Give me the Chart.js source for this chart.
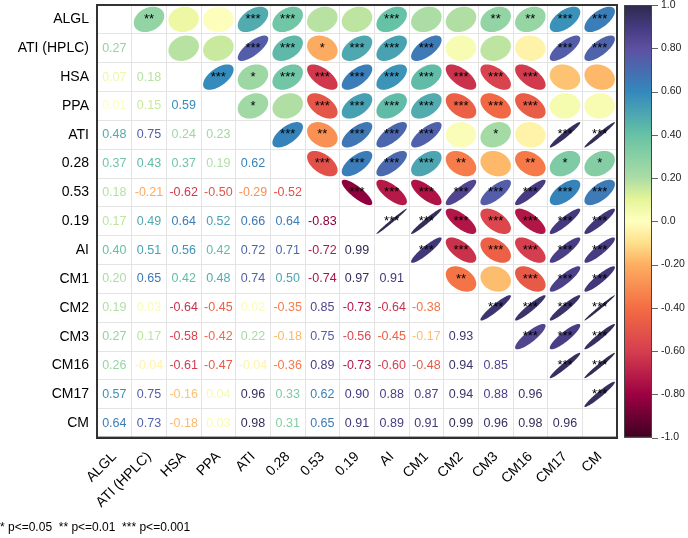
<!DOCTYPE html>
<html>
<head>
<meta charset="utf-8">
<script src="https://cdn.jsdelivr.net/npm/chart.js@4.4.1/dist/chart.umd.min.js"></script>
<style>
  html, body { margin: 0; padding: 0; background: #fff; }
  #wrap { width: 688px; height: 538px; }
</style>
</head>
<body>
<div id="wrap"><canvas id="corrChart"></canvas></div>
<script>
// variables, top to bottom / left to right
const labels = ['ALGL', 'ATI (HPLC)', 'HSA', 'PPA', 'ATI', '0.28', '0.53', '0.19', 'AI', 'CM1', 'CM2', 'CM3', 'CM16', 'CM17', 'CM'];

// lower triangle of the correlation matrix, row by row
const lower = [
  [],
  [0.27],
  [0.07, 0.18],
  [0.01, 0.15, 0.59],
  [0.48, 0.75, 0.24, 0.23],
  [0.37, 0.43, 0.37, 0.19, 0.62],
  [0.18, -0.21, -0.62, -0.50, -0.29, -0.52],
  [0.17, 0.49, 0.64, 0.52, 0.66, 0.64, -0.83],
  [0.40, 0.51, 0.56, 0.42, 0.72, 0.71, -0.72, 0.99],
  [0.20, 0.65, 0.42, 0.48, 0.74, 0.50, -0.74, 0.97, 0.91],
  [0.19, 0.03, -0.64, -0.45, 0.02, -0.35, 0.85, -0.73, -0.64, -0.38],
  [0.27, 0.17, -0.58, -0.42, 0.22, -0.18, 0.75, -0.56, -0.45, -0.17, 0.93],
  [0.26, -0.04, -0.61, -0.47, -0.04, -0.36, 0.89, -0.73, -0.60, -0.48, 0.94, 0.85],
  [0.57, 0.75, -0.16, 0.04, 0.96, 0.33, 0.62, 0.90, 0.88, 0.87, 0.94, 0.88, 0.96],
  [0.64, 0.73, -0.18, 0.03, 0.98, 0.31, 0.65, 0.91, 0.89, 0.91, 0.99, 0.96, 0.98, 0.96]
];

// significance marks of the upper triangle, row i lists columns i+1 .. end
const sig = [
  ['**', '', '', '***', '***', '', '', '***', '', '', '**', '**', '***', '***'],
  ['', '', '***', '***', '*', '***', '***', '***', '', '', '', '***', '***'],
  ['***', '*', '***', '***', '***', '***', '***', '***', '***', '***', '', ''],
  ['*', '', '***', '***', '***', '***', '***', '***', '***', '', ''],
  ['***', '**', '***', '***', '***', '', '*', '', '***', '***'],
  ['***', '***', '***', '***', '**', '', '**', '*', '*'],
  ['***', '***', '***', '***', '***', '***', '***', '***'],
  ['***', '***', '***', '***', '***', '***', '***'],
  ['***', '***', '***', '***', '***', '***'],
  ['**', '', '***', '***', '***'],
  ['***', '***', '***', '***'],
  ['***', '***', '***'],
  ['***', '***'],
  ['***']
];

const cbarTicks = [1, 0.8, 0.6, 0.4, 0.2, 0, -0.2, -0.4, -0.6, -0.8, -1];

// colour ramp, -1 .. 1
const stops = [
  [-1.0, '#3f0022'], [-0.9, '#6d0134'], [-0.8, '#9e0142'], [-0.6, '#d53e4f'],
  [-0.4, '#f46d43'], [-0.2, '#fdae61'], [-0.1, '#fee08b'], [0.0, '#ffffbf'],
  [0.1, '#e6f598'], [0.2, '#abdda4'], [0.4, '#66c2a5'], [0.6, '#3288bd'],
  [0.8, '#5e4fa2'], [0.9, '#443a7e'], [1.0, '#2c2a4c']
];

function hex(c) {
  return [1, 3, 5].map(i => parseInt(c.substr(i, 2), 16));
}
function colorFor(v) {
  for (let k = 1; k < stops.length; k++) {
    if (v <= stops[k][0]) {
      const [v0, c0] = stops[k - 1], [v1, c1] = stops[k];
      const t = (v - v0) / (v1 - v0);
      const a = hex(c0), b = hex(c1);
      return 'rgb(' + a.map((x, i) => Math.round(x + (b[i] - x) * t)).join(',') + ')';
    }
  }
  return stops[stops.length - 1][1];
}

const upperCells = [];
const lowerCells = [];
labels.forEach((rowName, i) => {
  labels.forEach((colName, j) => {
    if (j > i) upperCells.push({x: colName, y: rowName, v: lower[j][i], s: sig[i][j - i - 1]});
    if (j < i) lowerCells.push({x: colName, y: rowName, v: lower[i][j]});
  });
});

const FONT = "'Liberation Sans', Arial, sans-serif";

const corrPlugin = {
  id: 'corrMarks',
  afterDatasetsDraw(chart) {
    const {ctx, chartArea: area, scales} = chart;
    const w = Math.abs(scales.x.getPixelForValue(1) - scales.x.getPixelForValue(0));
    const h = Math.abs(scales.y.getPixelForValue(1) - scales.y.getPixelForValue(0));
    ctx.save();
    ctx.textAlign = 'center';
    ctx.textBaseline = 'middle';

    // ellipses + stars
    chart.getDatasetMeta(0).data.forEach((pt, k) => {
      const d = upperCells[k];
      const half = Math.acos(Math.max(-1, Math.min(1, d.v))) / 2;
      ctx.beginPath();
      for (let t = 0; t <= 120; t++) {
        const th = t / 120 * 2 * Math.PI;
        const px = pt.x + 0.44 * w * Math.cos(th + half);
        const py = pt.y - 0.44 * h * Math.cos(th - half);
        if (t === 0) ctx.moveTo(px, py); else ctx.lineTo(px, py);
      }
      ctx.closePath();
      ctx.fillStyle = colorFor(d.v);
      ctx.fill();
      if (d.s) {
        ctx.fillStyle = '#000';
        ctx.font = '13px ' + FONT;
        ctx.fillText(d.s, pt.x, pt.y);
      }
    });

    // numbers
    ctx.font = '12.5px ' + FONT;
    chart.getDatasetMeta(1).data.forEach((pt, k) => {
      const d = lowerCells[k];
      ctx.fillStyle = colorFor(d.v);
      ctx.fillText(d.v.toFixed(2), pt.x, pt.y);
    });

    // frame
    ctx.strokeStyle = '#333';
    ctx.lineWidth = 2;
    ctx.strokeRect(area.left, area.top, area.width, area.height);

    // colour bar
    const cb = scales.cb;
    const yTop = cb.getPixelForValue(1), yBot = cb.getPixelForValue(-1);
    const x0 = area.right + 7, x1 = area.right + 35;
    const grad = ctx.createLinearGradient(0, yBot, 0, yTop);
    stops.forEach(([v, c]) => grad.addColorStop((v + 1) / 2, c));
    ctx.fillStyle = grad;
    ctx.fillRect(x0, yTop, x1 - x0, yBot - yTop);
    ctx.strokeStyle = '#444';
    ctx.lineWidth = 1;
    ctx.strokeRect(x0 + 0.5, yTop + 0.5, x1 - x0 - 1, yBot - yTop - 1);
    ctx.strokeStyle = '#666';
    cbarTicks.forEach(v => {
      const y = Math.round(cb.getPixelForValue(v)) + 0.5;
      ctx.beginPath();
      ctx.moveTo(x1, y);
      ctx.lineTo(x1 + 6, y);
      ctx.stroke();
    });
    ctx.restore();
  }
};

const corr_config = {
  type: 'scatter',
  data: {
    datasets: [
      {label: 'upper', data: upperCells, pointRadius: 0, pointHoverRadius: 0},
      {label: 'lower', data: lowerCells, pointRadius: 0, pointHoverRadius: 0}
    ]
  },
  options: {
    responsive: true,
    maintainAspectRatio: false,
    animation: false,
    layout: {padding: {top: 5, left: 0, right: 0, bottom: 0}},
    plugins: {
      legend: {display: false},
      tooltip: {enabled: false},
      title: {
        display: true,
        position: 'bottom',
        align: 'start',
        text: '* p<=0.05  ** p<=0.01  *** p<=0.001',
        color: '#000',
        font: {size: 12, weight: 'normal', family: FONT},
        padding: {top: 4, bottom: 3}
      }
    },
    scales: {
      x: {
        type: 'category',
        labels: labels,
        offset: true,
        grid: {offset: true, color: '#e4e4e4', drawTicks: false},
        border: {display: true, color: '#222', width: 2},
        ticks: {
          autoSkip: false, minRotation: 45, maxRotation: 45,
          color: '#000', padding: 11, font: {size: 14, family: FONT}
        },
        afterFit: s => { s.height = 79; s.paddingLeft = 0; s.paddingRight = 0; }
      },
      y: {
        type: 'category',
        labels: labels,
        offset: true,
        grid: {offset: true, color: '#e4e4e4', drawTicks: false},
        border: {display: true, color: '#222', width: 2},
        ticks: {autoSkip: false, color: '#000', padding: 8, font: {size: 14, family: FONT}},
        afterFit: s => { s.width = 97; s.paddingTop = 0; s.paddingBottom = 0; }
      },
      cb: {
        type: 'linear',
        position: 'right',
        min: -1,
        max: 1,
        grid: {display: false},
        border: {display: false},
        afterBuildTicks: s => { s.ticks = cbarTicks.map(v => ({value: v})); },
        ticks: {
          color: '#222',
          padding: 36,
          font: {size: 10.5, family: FONT},
          callback: v => (v === 0 || Math.abs(v) === 1) ? v.toFixed(1) : v.toFixed(2)
        },
        afterFit: s => { s.width = 71; s.paddingTop = 0; s.paddingBottom = 0; }
      }
    }
  },
  plugins: [corrPlugin]
};

const corr_chart = new Chart(document.getElementById('corrChart'), corr_config);
</script>
</body>
</html>
